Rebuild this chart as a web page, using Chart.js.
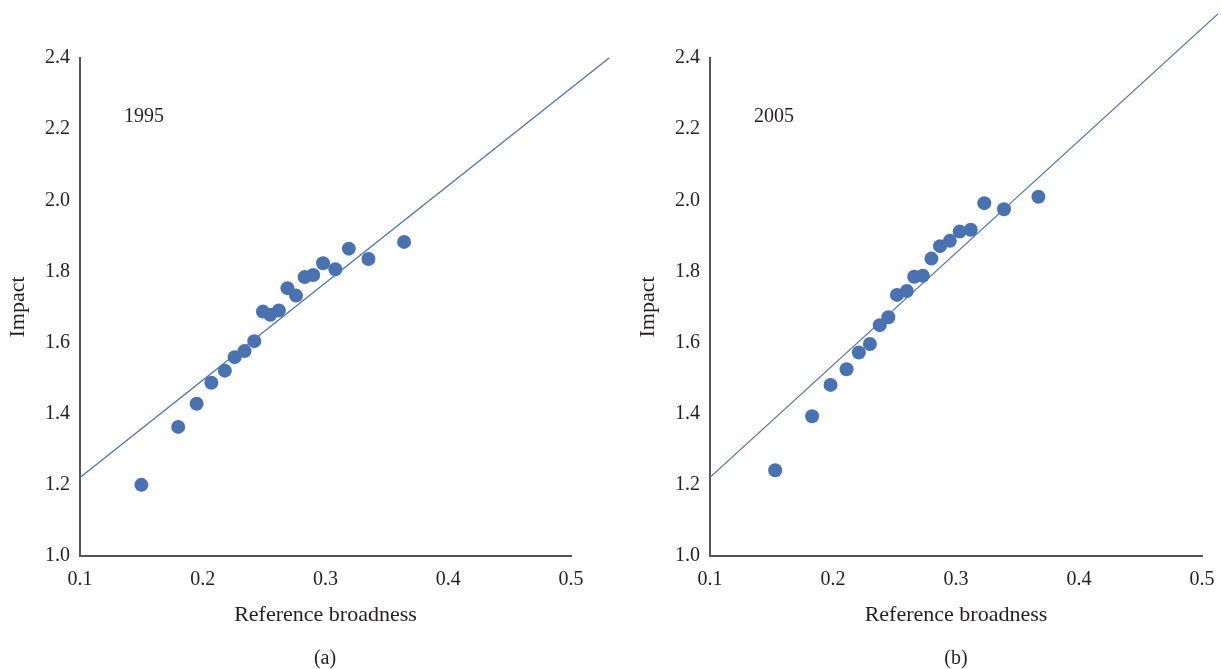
<!DOCTYPE html>
<html><head><meta charset="utf-8">
<script src="https://cdn.jsdelivr.net/npm/chart.js@4/dist/chart.umd.min.js"></script>
<style>
body{margin:0;background:#fff;width:1221px;height:669px;overflow:hidden;position:relative;font-family:"Liberation Serif",serif;}
canvas{position:absolute;top:0;}
.cap{position:absolute;top:645px;line-height:24px;font-size:20px;color:#231f20;transform:translateX(-50%);font-family:"Liberation Serif",serif;}
</style></head><body>
<canvas id="c1" width="615" height="669" style="left:0"></canvas>
<canvas id="c2" width="597" height="669" style="left:630px"></canvas>
<div class="cap" style="left:325px">(a)</div>
<div class="cap" style="left:956px">(b)</div>
<script>
const xTickValues = [0.1, 0.2, 0.3, 0.4, 0.5];
const yTickValues = [1.0, 1.2, 1.4, 1.6, 1.8, 2.0, 2.2, 2.4];
const xTitle = "Reference broadness";
const yTitle = "Impact";

const year1995 = "1995";
const broadness1995 = [0.150,0.180,0.195,0.207,0.218,0.226,0.234,0.242,0.249,0.255,0.262,0.269,0.276,0.283,0.290,0.298,0.308,0.319,0.335,0.364];
const impact1995   = [1.200,1.363,1.428,1.487,1.521,1.559,1.576,1.604,1.687,1.678,1.690,1.753,1.732,1.784,1.790,1.823,1.806,1.864,1.835,1.883];
const fitX1995 = [0.1, 0.531];
const fitY1995 = [1.221, 2.4];

const year2005 = "2005";
const broadness2005 = [0.153,0.183,0.198,0.211,0.221,0.230,0.238,0.245,0.252,0.260,0.266,0.273,0.280,0.287,0.295,0.303,0.312,0.323,0.339,0.367];
const impact2005   = [1.241,1.393,1.481,1.525,1.572,1.596,1.649,1.671,1.734,1.745,1.785,1.788,1.836,1.871,1.886,1.912,1.917,1.992,1.975,2.010];
const fitX2005 = [0.1, 0.513];
const fitY2005 = [1.221, 2.524];

const BLUE = '#4a72b0';
const TEXT = '#231f20';
const FONT = '"Liberation Serif", serif';

const yearLabel = {
  id: 'yearLabel',
  afterDraw(chart, args, opts) {
    const {ctx, chartArea} = chart;
    ctx.save();
    ctx.font = '20px ' + FONT;
    ctx.fillStyle = TEXT;
    ctx.textAlign = 'left';
    ctx.textBaseline = 'middle';
    ctx.fillText(opts.text, chartArea.left + 44, chartArea.top + 59);
    ctx.restore();
  }
};

function makeChart(id, xs, ys, fx, fy, year, padRight) {
  const pts = xs.map((x, i) => ({x: x, y: ys[i]}));
  const fit = fx.map((x, i) => ({x: x, y: fy[i]}));
  return new Chart(document.getElementById(id), {
    type: 'scatter',
    data: {
      datasets: [
        {data: fit, type: 'line', showLine: true, borderColor: BLUE, borderWidth: 1.3, pointRadius: 0, clip: false, order: 2},
        {data: pts, backgroundColor: BLUE, borderWidth: 0, pointRadius: 7, pointHoverRadius: 7, order: 1}
      ]
    },
    options: {
      responsive: false,
      animation: false,
      events: [],
      layout: {padding: {left: 0, right: padRight, top: 58, bottom: 0}},
      plugins: {legend: {display: false}, tooltip: {enabled: false}, yearLabel: {text: year}},
      scales: {
        x: {
          type: 'linear', min: xTickValues[0], max: xTickValues[xTickValues.length - 1],
          afterBuildTicks: s => { s.ticks = xTickValues.map(v => ({value: v})); },
          afterFit: s => { s.height = 113; },
          grid: {display: false, drawTicks: false},
          border: {display: true, color: '#555', width: 2},
          ticks: {color: TEXT, font: {family: FONT, size: 20}, padding: 12, maxRotation: 0, autoSkip: false,
                  callback: v => Number(v).toFixed(1)},
          title: {display: true, text: xTitle, color: TEXT, font: {family: FONT, size: 22}, padding: {top: 0, bottom: 41}}
        },
        y: {
          type: 'linear', min: yTickValues[0], max: yTickValues[yTickValues.length - 1],
          afterBuildTicks: s => { s.ticks = yTickValues.map(v => ({value: v})); },
          afterFit: s => { s.width = 80; },
          grid: {display: false, drawTicks: false},
          border: {display: true, color: '#555', width: 2},
          ticks: {color: TEXT, font: {family: FONT, size: 20}, padding: 10, autoSkip: false,
                  callback: v => Number(v).toFixed(1)},
          title: {display: true, text: yTitle, color: TEXT, font: {family: FONT, size: 22}, padding: {top: 5, bottom: 0}}
        }
      }
    },
    plugins: [yearLabel]
  });
}

makeChart('c1', broadness1995, impact1995, fitX1995, fitY1995, year1995, 44);
makeChart('c2', broadness2005, impact2005, fitX2005, fitY2005, year2005, 25);
</script>
</body></html>
